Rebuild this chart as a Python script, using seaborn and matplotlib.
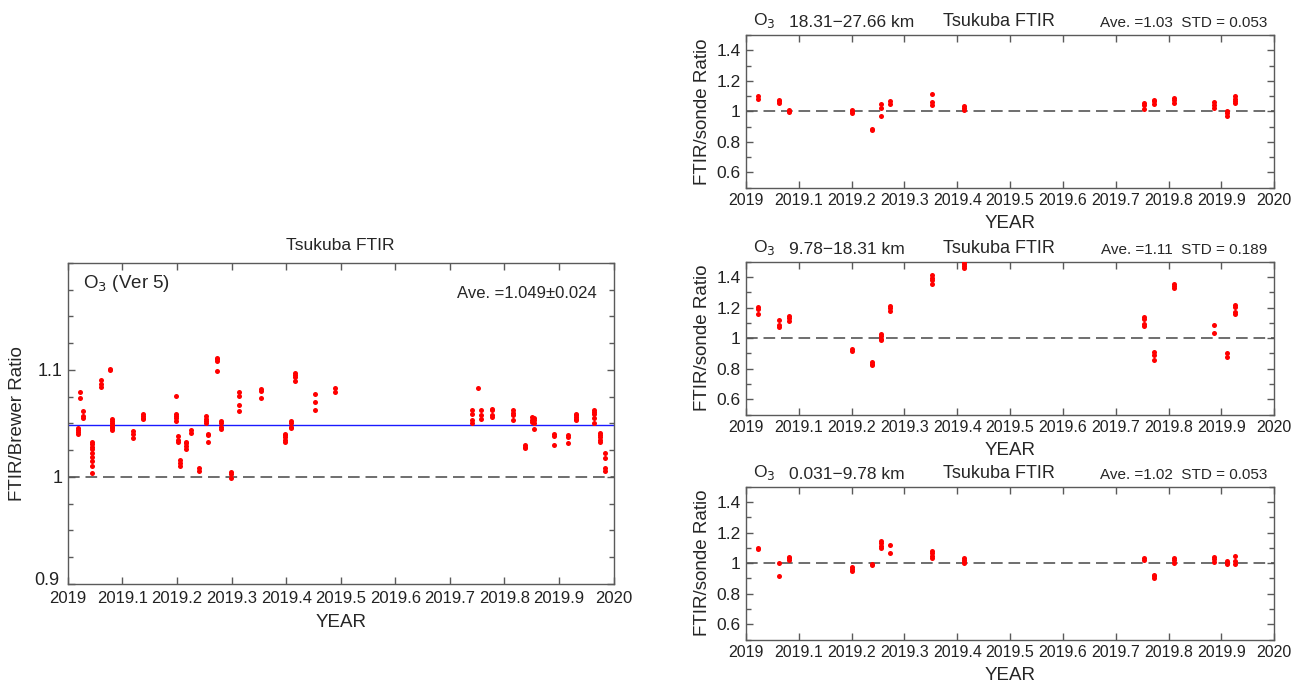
import numpy as np
import pandas as pd
import matplotlib
matplotlib.use("Agg")
import matplotlib.pyplot as plt
from matplotlib.ticker import FixedLocator, MultipleLocator
from matplotlib.transforms import ScaledTranslation
import seaborn as sns

# ---------------- FTIR / Brewer total-column ratio ----------------
brewer_times = [2019.019, 2019.022, 2019.027, 2019.044, 2019.061, 2019.077, 2019.080,
                2019.120, 2019.137, 2019.198, 2019.201, 2019.206, 2019.217, 2019.226,
                2019.240, 2019.254, 2019.257, 2019.2735, 2019.280, 2019.299, 2019.313,
                2019.354, 2019.398, 2019.408, 2019.4156, 2019.452, 2019.489,
                2019.740, 2019.7515, 2019.7575, 2019.777, 2019.816, 2019.838, 2019.851,
                2019.855, 2019.891, 2019.917, 2019.932, 2019.965, 2019.975, 2019.984]
brewer_ratios = [
    [1.0455, 1.0440, 1.0418, 1.0402], [1.079, 1.074], [1.062, 1.057, 1.055],
    [1.033, 1.031, 1.028, 1.026, 1.022, 1.019, 1.015, 1.010, 1.004],
    [1.091, 1.087, 1.084], [1.101, 1.0997],
    [1.054, 1.052, 1.050, 1.049, 1.047, 1.046, 1.044],
    [1.043, 1.040, 1.036], [1.059, 1.057, 1.055, 1.054],
    [1.076, 1.059, 1.057, 1.055, 1.052], [1.038, 1.035, 1.033],
    [1.0155, 1.013, 1.010], [1.033, 1.032, 1.029, 1.026], [1.044, 1.041],
    [1.008, 1.006], [1.057, 1.054, 1.052, 1.050], [1.040, 1.039, 1.033],
    [1.111, 1.110, 1.108, 1.099], [1.052, 1.050, 1.047, 1.045],
    [1.005, 1.0025, 0.9994], [1.079, 1.076, 1.067, 1.062], [1.082, 1.080, 1.074],
    [1.040, 1.039, 1.037, 1.035, 1.033], [1.052, 1.050, 1.047, 1.046],
    [1.0975, 1.095, 1.0935, 1.090], [1.078, 1.070, 1.0625], [1.0836, 1.079],
    [1.063, 1.059, 1.053, 1.050], [1.083], [1.0625, 1.058, 1.054],
    [1.064, 1.0625, 1.058, 1.056], [1.0625, 1.060, 1.058, 1.053],
    [1.030, 1.0285, 1.027], [1.056, 1.053, 1.051], [1.055, 1.053, 1.050, 1.045],
    [1.040, 1.038, 1.030], [1.039, 1.037, 1.032],
    [1.059, 1.058, 1.056, 1.054, 1.053], [1.063, 1.061, 1.059, 1.055, 1.050],
    [1.041, 1.039, 1.037, 1.035, 1.033], [1.022, 1.018, 1.008, 1.006]]
brewer_mean = 1.049
brewer_std = 0.024

# ---------------- FTIR / ozonesonde partial-column ratios ----------------
sonde_times = [2019.023, 2019.0616, 2019.081, 2019.200, 2019.2384, 2019.256,
               2019.272, 2019.3516, 2019.413, 2019.754, 2019.773, 2019.811,
               2019.8855, 2019.910, 2019.925]

layer_names = ["18.31\u221227.66 km", "9.78\u221218.31 km", "0.031\u22129.78 km"]
layer_means = ["1.03", "1.11", "1.02"]
layer_stds = ["0.053", "0.189", "0.053"]

upper_ratios = [
    [1.098, 1.083], [1.076, 1.065, 1.054], [1.011, 1.000, 0.993],
    [1.011, 1.000, 0.987], [0.883, 0.876], [1.046, 1.022, 0.967],
    [1.065, 1.050], [1.111, 1.061, 1.043], [1.035, 1.020, 1.007],
    [1.057, 1.039, 1.017], [1.076, 1.065, 1.050], [1.087, 1.072, 1.057],
    [1.061, 1.043, 1.024], [1.004, 0.989, 0.972], [1.098, 1.083, 1.067, 1.057]]
middle_ratios = [
    [1.201, 1.190, 1.156], [1.119, 1.087, 1.076], [1.145, 1.130, 1.115],
    [0.929, 0.918], [0.844, 0.833, 0.823], [1.026, 1.011, 0.996, 0.985],
    [1.210, 1.195, 1.180], [1.411, 1.396, 1.381, 1.357], [1.498, 1.487, 1.472, 1.459],
    [1.141, 1.126, 1.093, 1.080], [0.907, 0.892, 0.859], [1.357, 1.342, 1.331],
    [1.087, 1.037], [0.903, 0.877], [1.216, 1.206, 1.169, 1.156]]
lower_ratios = [
    [1.102, 1.091], [1.000, 0.913], [1.043, 1.032, 1.022],
    [0.974, 0.963, 0.952], [0.998, 0.989], [1.145, 1.130, 1.115, 1.097],
    [1.119, 1.065], [1.080, 1.065, 1.050, 1.032], [1.037, 1.022, 1.011, 1.000],
    [1.035, 1.022], [0.926, 0.913, 0.903], [1.032, 1.019, 1.004],
    [1.039, 1.026, 1.009], [1.017, 1.004, 0.996], [1.048, 1.017, 0.998]]

year_ticks = [2019.0, 2019.1, 2019.2, 2019.3, 2019.4, 2019.5, 2019.6, 2019.7, 2019.8, 2019.9, 2020.0]
year_labels = ["2019", "2019.1", "2019.2", "2019.3", "2019.4", "2019.5",
               "2019.6", "2019.7", "2019.8", "2019.9", "2020"]


def to_frame(times, groups):
    rows = [(t, v) for t, g in zip(times, groups) for v in g]
    return pd.DataFrame(rows, columns=["year", "ratio"])


sns.set_theme(style="ticks")
plt.rcParams["font.family"] = ["Liberation Sans", "DejaVu Sans"]
plt.rcParams["axes.edgecolor"] = "#5a5a5a"
plt.rcParams["axes.linewidth"] = 1.0
plt.rcParams["xtick.color"] = "#5a5a5a"
plt.rcParams["ytick.color"] = "#5a5a5a"
plt.rcParams["xtick.labelcolor"] = "#222222"
plt.rcParams["ytick.labelcolor"] = "#222222"

fig = plt.figure(figsize=(12.93, 6.84), dpi=100)

POINT_SIZE = 13
DASH = (0, (7, 3.5))


def style_axes(ax, tick_size):
    ax.set_xlim(2019.0, 2020.0)
    ax.xaxis.set_major_locator(FixedLocator(year_ticks))
    ax.set_xticklabels(year_labels)
    ax.tick_params(axis="both", which="both", direction="in",
                   top=True, right=True, labelsize=tick_size, pad=4)
    ax.tick_params(axis="both", which="major", length=5, width=1)
    ax.tick_params(axis="both", which="minor", length=3.5, width=1)
    ax.xaxis.set_minor_locator(FixedLocator([]))


# ---------------- left: total column vs Brewer ----------------
axL = fig.add_axes([0.0525, 0.1462, 0.4220, 0.4693])
dfL = to_frame(brewer_times, brewer_ratios)
axL.axhline(1.0, color="#555555", lw=1.2, ls=DASH, zorder=1)
axL.axhline(brewer_mean, color="#1a1aff", lw=1.0, zorder=1)
sns.scatterplot(data=dfL, x="year", y="ratio", ax=axL, color="red",
                s=POINT_SIZE, linewidth=0, zorder=3, legend=False)
style_axes(axL, 12)
axL.set_ylim(0.9, 1.2)
axL.yaxis.set_major_locator(FixedLocator([0.9, 1.0, 1.1]))
axL.set_yticklabels(["0.9", "1", "1.1"])
axL.yaxis.set_minor_locator(MultipleLocator(0.025))
axL.tick_params(axis="x", pad=5)
axL.tick_params(axis="y", labelsize=13)
# lift the bottom y label so it clears the first year label
lowest = axL.get_yticklabels()[0]
lowest.set_transform(lowest.get_transform() + ScaledTranslation(-2 / 72, 4 / 72, fig.dpi_scale_trans))
axL.set_xlabel("YEAR", fontsize=13.5, labelpad=6)
axL.set_ylabel("FTIR/Brewer Ratio", fontsize=13.5, labelpad=6)
axL.set_title("Tsukuba FTIR", fontsize=12.5, pad=9)
axL.text(0.028, 0.935, "O$_3$ (Ver 5)", transform=axL.transAxes,
         fontsize=13.5, ha="left", va="center")
axL.text(0.97, 0.905, f"Ave. ={brewer_mean:.3f}\u00b1{brewer_std:.3f}",
         transform=axL.transAxes, fontsize=12, ha="right", va="center")

# ---------------- right: partial columns vs ozonesonde ----------------
right_bottoms = [0.7256, 0.3940, 0.0650]
layer_data = [upper_ratios, middle_ratios, lower_ratios]
for bottom, name, mean, std, groups in zip(right_bottoms, layer_names, layer_means,
                                          layer_stds, layer_data):
    ax = fig.add_axes([0.5770, bottom, 0.4084, 0.2232])
    df = to_frame(sonde_times, groups)
    ax.axhline(1.0, color="#555555", lw=1.2, ls=DASH, zorder=1)
    sns.scatterplot(data=df, x="year", y="ratio", ax=ax, color="red",
                    s=POINT_SIZE, linewidth=0, zorder=3, legend=False)
    style_axes(ax, 11.5)
    ax.tick_params(axis="y", labelsize=12.5)
    ax.set_ylim(0.5, 1.5)
    ax.yaxis.set_major_locator(FixedLocator([0.6, 0.8, 1.0, 1.2, 1.4]))
    ax.set_yticklabels(["0.6", "0.8", "1", "1.2", "1.4"])
    ax.yaxis.set_minor_locator(MultipleLocator(0.1))
    ax.set_xlabel("YEAR", fontsize=13.5, labelpad=5)
    ax.set_ylabel("FTIR/sonde Ratio", fontsize=13.5, labelpad=4)
    y_txt = 1.0 + 5 / 153
    ax.text(0.013, y_txt, "O$_3$", transform=ax.transAxes, fontsize=12.5,
            ha="left", va="bottom")
    ax.text(0.081, y_txt, name, transform=ax.transAxes, fontsize=12.5,
            ha="left", va="bottom")
    ax.text(0.373, y_txt, "Tsukuba FTIR", transform=ax.transAxes, fontsize=13,
            ha="left", va="bottom")
    ax.text(0.987, y_txt, f"Ave. ={mean}  STD = {std}", transform=ax.transAxes,
            fontsize=11, ha="right", va="bottom")

fig.savefig("out.png", dpi=100)
